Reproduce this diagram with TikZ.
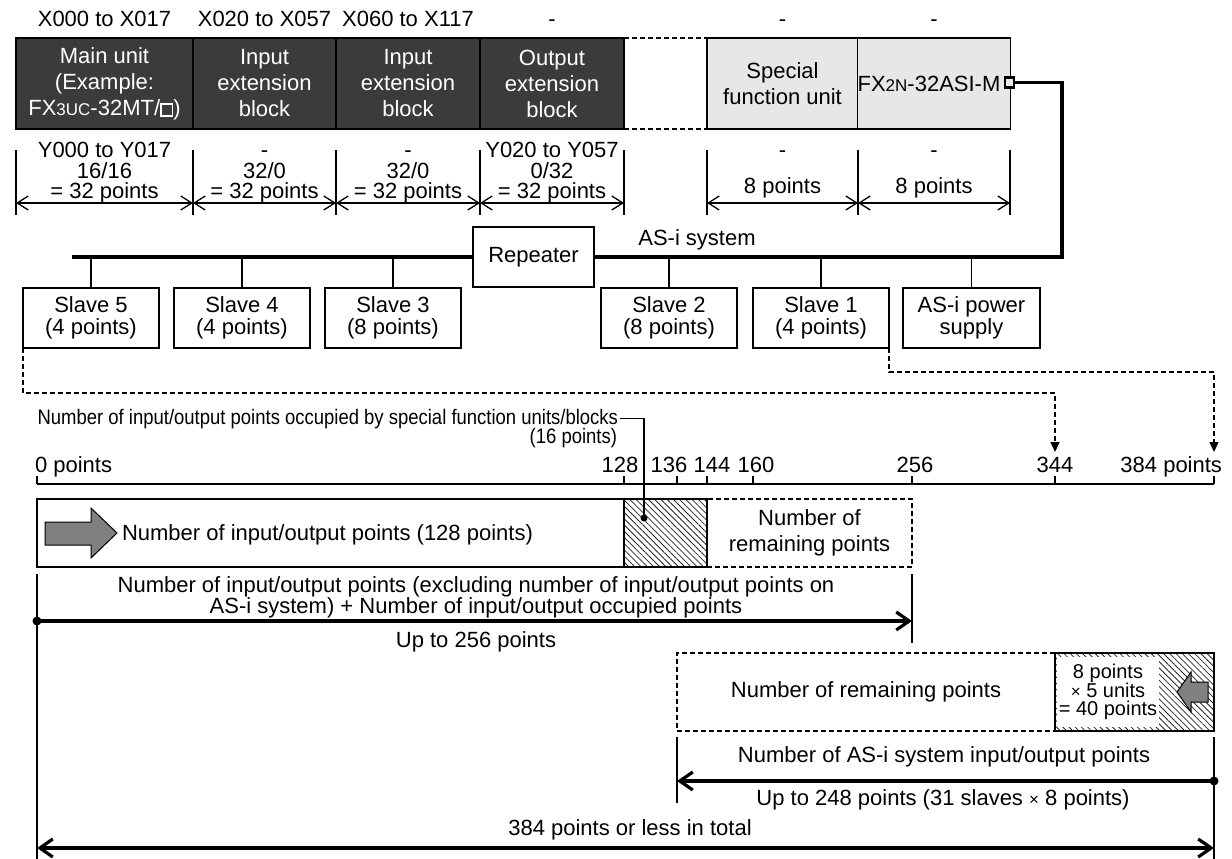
\documentclass[tikz,border=0pt]{standalone}
\usepackage{fontspec}
\usepackage{graphicx}
\setmainfont{Liberation Sans}
\usetikzlibrary{arrows.meta,patterns.meta}
\definecolor{unitdark}{HTML}{3B3B3B}
\definecolor{unitlight}{HTML}{E6E7E8}
\definecolor{blockgray}{HTML}{808080}
\newcommand\wsq{{\setlength{\fboxsep}{0pt}\setlength{\fboxrule}{1.6pt}\fbox{\rule{0pt}{10.5pt}\hspace{10pt}}}}
\newcommand\subsz[1]{{\fontsize{17}{17}\selectfont #1}}
\newcommand\smtimes{{\fontsize{17}{17}\selectfont ×}}
\newcommand\cond[1]{\scalebox{0.88}[1]{\fontsize{21}{21}\selectfont #1}}
\begin{document}
\begin{tikzpicture}[
  x=1pt, y=-1pt,
  every node/.style={inner sep=0pt, outer sep=0pt, font=\fontsize{22}{26}\selectfont},
  fine/.style={line width=1.3pt},
  heavy/.style={line width=3.2pt},
  unitbox/.style={draw=black, line width=1.3pt, align=center, minimum height=91pt},
  darkunit/.style={unitbox, fill=unitdark, text=white},
  lightunit/.style={unitbox, fill=unitlight},
  slavebox/.style={draw, line width=1.3pt, align=center, minimum width=136pt, minimum height=60pt, font=\fontsize{22}{22}\selectfont},
  lab/.style={anchor=base},
  dimarrow/.style={fine, {Straight Barb[length=11pt,width=14pt]}-{Straight Barb[length=11pt,width=14pt]}},
  dashln/.style={line width=1.3pt, dash pattern=on 5pt off 3pt},
  dashtip/.style={-{Triangle[length=10pt,width=9pt]}},
  hatch/.style={pattern={Lines[angle=-45,distance=4.4pt,line width=0.8pt]}, pattern color=black!85},
  bigtip/.style={-{Straight Barb[length=13pt,width=18pt]}},
  bigtips/.style={{Straight Barb[length=13pt,width=18pt]}-{Straight Barb[length=13pt,width=18pt]}},
  blockarrow/.style={line width=1pt, fill=blockgray},
]
\useasboundingbox (0,0) rectangle (1232,859);

% ---- top labels
\node[lab] (tx1) at (104.5,27) {X000 to X017};
\node[lab] (tx2) at (264.5,27) {X020 to X057};
\node[lab] (tx3) at (408,27) {X060 to X117};
\node[lab] (tx4) at (552,27) {-};
\node[lab] (tx5) at (782.5,27) {-};
\node[lab] (tx6) at (934,27) {-};

% ---- units
\node[darkunit, minimum width=177pt] (u1) at (104.5,83.5) {Main unit\\(Example:\\FX\subsz{3UC}-32MT/\wsq)};
\node[darkunit, minimum width=143pt] (u2) at (264.5,83.5) {Input\\extension\\block};
\node[darkunit, minimum width=144pt] (u3) at (408,83.5) {Input\\extension\\block};
\node[darkunit, minimum width=144pt] (u4) at (552,83.5) {Output\\extension\\block};
\node[lightunit, minimum width=151pt] (sfu) at (782.5,83.5) {Special\\function unit};
\node[lightunit, minimum width=152pt] (asim) at (934,83.5) {FX\subsz{2N}-32ASI-M\hspace*{10pt}};
\draw[dashln] (u4.north east) -- (sfu.north west);
\draw[dashln] (u4.south east) -- (sfu.south west);
\node[draw, line width=2.4pt, fill=unitlight, minimum width=9.5pt, minimum height=10pt] (port) at (1009.5,82.5) {};

% ---- Y labels and dimensions
\node[lab] (y1) at (104.5,157) {Y000 to Y017};
\node[lab] (y2) at (264.5,157) {-};
\node[lab] (y3) at (408,157) {-};
\node[lab] (y4) at (552,157) {Y020 to Y057};
\node[lab] (y5) at (782.5,157) {-};
\node[lab] (y6) at (934,157) {-};
\node[lab] (r1) at (104.5,178) {16/16};
\node[lab] (r2) at (264.5,178) {32/0};
\node[lab] (r3) at (408,178) {32/0};
\node[lab] (r4) at (552,178) {0/32};
\node[lab] (p1) at (104.5,198) {= 32 points};
\node[lab] (p2) at (264.5,198) {= 32 points};
\node[lab] (p3) at (408,198) {= 32 points};
\node[lab] (p4) at (552,198) {= 32 points};
\node[lab] (p5) at (782.5,193) {8 points};
\node[lab] (p6) at (934,193) {8 points};
\foreach \nm/\xx in {a/16,b/193,c/336,d/480,e/624,f/707,g/858,h/1010} {
  \coordinate (dim\nm) at (\xx,203);
  \draw[fine] (\xx,150) -- (\xx,215);
}
\draw[dimarrow] (dima) -- (dimb);
\draw[dimarrow] (dimb) -- (dimc);
\draw[dimarrow] (dimc) -- (dimd);
\draw[dimarrow] (dimd) -- (dime);
\draw[dimarrow] (dimf) -- (dimg);
\draw[dimarrow] (dimg) -- (dimh);

% ---- AS-i bus
\coordinate (busturn) at (1062,257);
\coordinate (busend) at (72,257);
\node[draw, fine, minimum width=121pt, minimum height=60pt] (rep) at (533.5,257) {Repeater};
\draw[heavy] (port.east) -| (busturn) -- (rep.east);
\draw[heavy] (rep.west) -- (busend);
\node[lab] (asisys) at (697,245) {AS-i system};

\node[slavebox] (s5) at (91,318) {Slave 5\\(4 points)};
\node[slavebox] (s4) at (242,318) {Slave 4\\(4 points)};
\node[slavebox] (s3) at (393,318) {Slave 3\\(8 points)};
\node[slavebox] (s2) at (669,318) {Slave 2\\(8 points)};
\node[slavebox] (s1) at (821,318) {Slave 1\\(4 points)};
\node[slavebox, minimum width=137pt] (ps) at (971.5,318) {AS-i power\\supply};
\draw[fine] (s5.north) -- (s5.north |- busend);
\draw[fine] (s4.north) -- (s4.north |- busend);
\draw[fine] (s3.north) -- (s3.north |- busend);
\draw[fine] (s2.north) -- (s2.north |- busturn);
\draw[fine] (s1.north) -- (s1.north |- busturn);
\draw[fine] (ps.north) -- (ps.north |- busturn);

% ---- dashed transfer arrows
\coordinate (tip344) at (1055,452);
\coordinate (tip384) at (1214,452);
\draw[dashln, dashtip] (s5.south west) -- ++(0,45) -| (tip344);
\draw[dashln, dashtip] (s1.south east) -- ++(0,24) -| (tip384);

% ---- occupied label
\node[anchor=base east] (occlab) at (618,424) {\cond{Number of input/output points occupied by special function units/blocks}};
\node[anchor=base east] (occpts) at (617,443) {\cond{(16 points)}};

% ---- axis
\coordinate (ax0) at (37,484);
\coordinate (axend) at (1214,484);
\draw[fine] (ax0) -- (axend);
\foreach \xx in {37,624,677,707,753,912,1055,1214} \draw[fine] (\xx,484) -- (\xx,476);
\node[anchor=base west] (l0) at (35,472) {0 points};
\node[lab] (l128) at (620,472) {128};
\node[lab] (l136) at (669,472) {136};
\node[lab] (l144) at (712,472) {144};
\node[lab] (l160) at (756,472) {160};
\node[lab] (l256) at (915,472) {256};
\node[lab] (l344) at (1055,472) {344};
\node[anchor=base east] (l384) at (1222,472) {384 points};

% ---- box 1
\node[draw, fine, minimum width=587pt, minimum height=68pt] (iobox) at (330.5,533) {};
\node[draw, dashln, minimum width=205pt, minimum height=68pt, align=center] (rem1) at (809.5,533) {Number of\\remaining points};
\node[draw, fine, hatch, minimum width=83pt, minimum height=68pt] (occbox) at (665.5,533) {};
\coordinate (ldot) at (644,518);
\draw[fine] ([xshift=2pt]occlab.east) -| (ldot);
\fill (ldot) circle (3.5pt);
\draw[blockarrow] (45,522) -- (91,522) -- (91,508) -- (117,533) -- (91,558) -- (91,545) -- (45,545) -- cycle;
\node[anchor=base west] (io128) at (122,540) {Number of input/output points (128 points)};

\node[lab] (excl1) at (476,592) {Number of input/output points (excluding number of input/output points on};
\node[lab] (excl2) at (476,613) {AS-i system) + Number of input/output occupied points};
\coordinate (a256s) at (37,621);
\coordinate (a256e) at (912,621);
\draw[heavy, bigtip] (a256s) -- (a256e);
\fill (a256s) circle (4.5pt);
\node[lab] (upto256) at (476,647) {Up to 256 points};
\coordinate (vl0) at (37,574);
\coordinate (vl0b) at (37,859);
\draw[fine] (vl0) -- (vl0b);
\coordinate (vl256) at (912,574);
\coordinate (vl256b) at (912,643);
\draw[fine] (vl256) -- (vl256b);

% ---- box 2
\node[draw, dashln, minimum width=378pt, minimum height=78pt] (rem2) at (866,692) {Number of remaining points};
\node[draw, fine, hatch, minimum width=159pt, minimum height=78pt] (asibox) at (1134.5,692) {};
\node[fill=white, align=center, font=\fontsize{20}{18}\selectfont, minimum width=102pt, minimum height=70pt] (fortypts) at (1108,692) {8 points\\\smtimes\ 5 units\\= 40 points};
\draw[blockarrow] (1208,682) -- (1191,682) -- (1191,672) -- (1177,692) -- (1191,712) -- (1191,702) -- (1208,702) -- cycle;

\coordinate (vl677) at (677,737);
\coordinate (vl677b) at (677,803);
\draw[fine] (vl677) -- (vl677b);
\coordinate (vl384) at (1214,737);
\coordinate (vl384b) at (1214,859);
\draw[fine] (vl384) -- (vl384b);
\node[lab] (asipts) at (944,762) {Number of AS-i system input/output points};
\coordinate (a248s) at (1214,781);
\coordinate (a248e) at (677,781);
\draw[heavy, bigtip] (a248s) -- (a248e);
\fill (a248s) circle (4.5pt);
\node[lab] (upto248) at (943,805) {Up to 248 points (31 slaves \smtimes\ 8 points)};
\node[lab] (total) at (630,835) {384 points or less in total};
\coordinate (tot0) at (37,848);
\coordinate (tot1) at (1214,848);
\draw[heavy, bigtips] (tot0) -- (tot1);
\end{tikzpicture}
\end{document}
